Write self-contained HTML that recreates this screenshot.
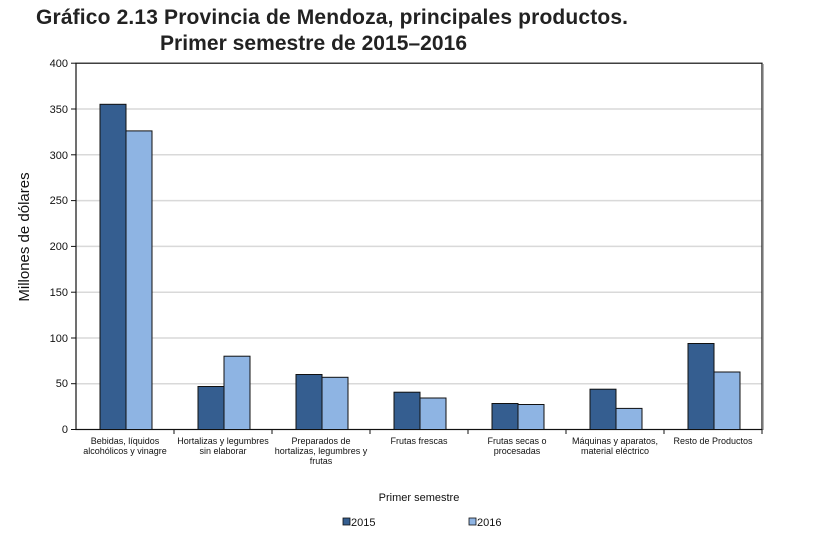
<!DOCTYPE html>
<html><head><meta charset="utf-8"><style>
body{margin:0;background:#fff;width:817px;height:534px;overflow:hidden}
svg{font-family:"Liberation Sans",Arial,sans-serif}
</style></head><body>
<svg width="817" height="534" xmlns="http://www.w3.org/2000/svg">
<text x="36" y="24" font-size="21" font-weight="bold" fill="#222" textLength="592">Gráfico 2.13 Provincia de Mendoza, principales productos.</text>
<text x="160" y="50" font-size="21" font-weight="bold" fill="#222" textLength="307">Primer semestre de 2015–2016</text>
<g stroke="#d9d9d9" stroke-width="1.5">
<line x1="76" x2="762" y1="383.7" y2="383.7"/><line x1="76" x2="762" y1="338" y2="338"/>
<line x1="76" x2="762" y1="292.2" y2="292.2"/><line x1="76" x2="762" y1="246.4" y2="246.4"/>
<line x1="76" x2="762" y1="200.6" y2="200.6"/><line x1="76" x2="762" y1="154.8" y2="154.8"/>
<line x1="76" x2="762" y1="109" y2="109"/>
</g>
<rect x="76" y="63.2" width="686" height="366.3" fill="none" stroke="#111" stroke-width="1.2"/>
<line x1="763" y1="64" x2="763" y2="430" stroke="#999" stroke-width="1.5"/>
<g font-size="11" fill="#111" text-anchor="end">
<text x="68" y="433">0</text><text x="68" y="387">50</text><text x="68" y="342">100</text>
<text x="68" y="296">150</text><text x="68" y="250">200</text><text x="68" y="204">250</text>
<text x="68" y="159">300</text><text x="68" y="113">350</text><text x="68" y="67">400</text>
</g>
<g stroke="#111" stroke-width="1">
<line x1="71" x2="76" y1="429.5" y2="429.5"/><line x1="71" x2="76" y1="383.7" y2="383.7"/><line x1="71" x2="76" y1="338" y2="338"/><line x1="71" x2="76" y1="292.2" y2="292.2"/><line x1="71" x2="76" y1="246.4" y2="246.4"/><line x1="71" x2="76" y1="200.6" y2="200.6"/><line x1="71" x2="76" y1="154.8" y2="154.8"/><line x1="71" x2="76" y1="109" y2="109"/><line x1="71" x2="76" y1="63.2" y2="63.2"/>
<line x1="174" x2="174" y1="429" y2="434"/><line x1="272" x2="272" y1="429" y2="434"/><line x1="370" x2="370" y1="429" y2="434"/><line x1="468" x2="468" y1="429" y2="434"/><line x1="566" x2="566" y1="429" y2="434"/><line x1="664" x2="664" y1="429" y2="434"/><line x1="762" x2="762" y1="429" y2="434"/>
</g>
<g stroke="#111" stroke-width="1">
<rect x="100" y="104.3" width="26" height="325.2" fill="#355e90"/><rect x="126" y="130.9" width="26" height="298.6" fill="#8eb4e3"/>
<rect x="198" y="386.5" width="26" height="43" fill="#355e90"/><rect x="224" y="356.2" width="26" height="73.3" fill="#8eb4e3"/>
<rect x="296" y="374.5" width="26" height="55" fill="#355e90"/><rect x="322" y="377.3" width="26" height="52.2" fill="#8eb4e3"/>
<rect x="394" y="392.2" width="26" height="37.3" fill="#355e90"/><rect x="420" y="398" width="26" height="31.5" fill="#8eb4e3"/>
<rect x="492" y="403.5" width="26" height="26" fill="#355e90"/><rect x="518" y="404.5" width="26" height="25" fill="#8eb4e3"/>
<rect x="590" y="389.2" width="26" height="40.3" fill="#355e90"/><rect x="616" y="408.4" width="26" height="21.1" fill="#8eb4e3"/>
<rect x="688" y="343.5" width="26" height="86" fill="#355e90"/><rect x="714" y="372" width="26" height="57.5" fill="#8eb4e3"/>
</g>
<g font-size="9" fill="#111" text-anchor="middle">
<text x="125" y="444">Bebidas, líquidos</text><text x="125" y="454">alcohólicos y vinagre</text>
<text x="223" y="444">Hortalizas y legumbres</text><text x="223" y="454">sin elaborar</text>
<text x="321" y="444">Preparados de</text><text x="321" y="454">hortalizas, legumbres y</text><text x="321" y="464">frutas</text>
<text x="419" y="444">Frutas frescas</text>
<text x="517" y="444">Frutas secas o</text><text x="517" y="454">procesadas</text>
<text x="615" y="444">Máquinas y aparatos,</text><text x="615" y="454">material eléctrico</text>
<text x="713" y="444">Resto de Productos</text>
</g>
<text x="419" y="501" font-size="11" text-anchor="middle" fill="#111">Primer semestre</text>
<text transform="translate(29,237) rotate(-90)" font-size="15" text-anchor="middle" fill="#111">Millones de dólares</text>
<rect x="343" y="518" width="7" height="7" fill="#355e90" stroke="#111" stroke-width="0.8"/>
<text x="351" y="526" font-size="11" fill="#111">2015</text>
<rect x="469" y="518" width="7" height="7" fill="#8eb4e3" stroke="#111" stroke-width="0.8"/>
<text x="477" y="526" font-size="11" fill="#111">2016</text>
</svg>
</body></html>
